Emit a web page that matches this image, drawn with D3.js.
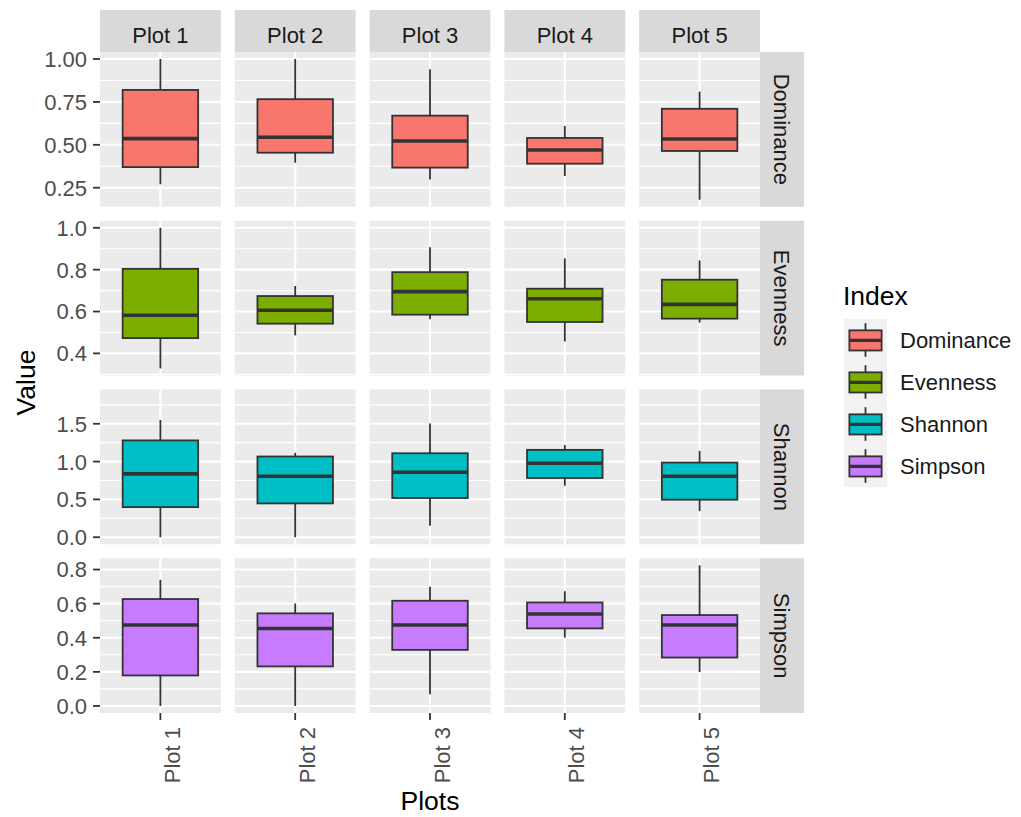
<!DOCTYPE html>
<html>
<head>
<meta charset="utf-8">
<script src="https://cdn.jsdelivr.net/npm/d3@7"></script>
<style>
  body { margin: 0; background: #ffffff; }
  svg { display: block; font-family: "Liberation Sans", Arial, sans-serif; }
</style>
</head>
<body>
<svg id="chart" width="1021" height="817"></svg>
<script>
// ---- data ---------------------------------------------------------------
const plots = ["Plot 1", "Plot 2", "Plot 3", "Plot 4", "Plot 5"];
const indices = ["Dominance", "Evenness", "Shannon", "Simpson"];
const indexColors = ["#F8766D", "#7CAE00", "#00BFC4", "#C77CFF"];

// box summaries per plot: [lower whisker, Q1, median, Q3, upper whisker]
const dominance = [
  [0.27, 0.37, 0.536, 0.82, 1.00],
  [0.396, 0.454, 0.544, 0.766, 1.00],
  [0.298, 0.367, 0.522, 0.67, 0.94],
  [0.318, 0.39, 0.47, 0.54, 0.61],
  [0.18, 0.464, 0.534, 0.71, 0.81]
];
const evenness = [
  [0.328, 0.473, 0.582, 0.804, 1.00],
  [0.486, 0.542, 0.606, 0.674, 0.722],
  [0.563, 0.585, 0.695, 0.788, 0.907],
  [0.457, 0.55, 0.661, 0.709, 0.854],
  [0.547, 0.566, 0.634, 0.752, 0.844]
];
const shannon = [
  [0.0, 0.398, 0.837, 1.28, 1.55],
  [0.0, 0.447, 0.806, 1.067, 1.116],
  [0.15, 0.518, 0.859, 1.11, 1.505],
  [0.681, 0.783, 0.978, 1.155, 1.218],
  [0.345, 0.496, 0.806, 0.987, 1.142]
];
const simpson = [
  [0.0, 0.179, 0.475, 0.627, 0.74],
  [0.0, 0.232, 0.454, 0.543, 0.601],
  [0.068, 0.329, 0.475, 0.617, 0.699],
  [0.401, 0.455, 0.539, 0.607, 0.673],
  [0.199, 0.284, 0.475, 0.533, 0.825]
];
const summaries = [dominance, evenness, shannon, simpson];

// full data range per index, including outliers (outliers are not drawn)
const dataRange = [[0.18, 1.0], [0.328, 1.0], [0.0, 1.86], [0.0, 0.825]];

// y-axis breaks per index
const ticksDominance = [0.25, 0.50, 0.75, 1.00];
const ticksEvenness = [0.4, 0.6, 0.8, 1.0];
const ticksShannon = [0.0, 0.5, 1.0, 1.5];
const ticksSimpson = [0.0, 0.2, 0.4, 0.6, 0.8];
const tickSets = [ticksDominance, ticksEvenness, ticksShannon, ticksSimpson];
const tickFormats = [".2f", ".1f", ".1f", ".1f"];

// ---- layout -------------------------------------------------------------
const svg = d3.select("#chart");
const gridLeft = 100, gridRight = 760, gridTop = 52, gridBottom = 713, gap = 14;
const pw = (gridRight - gridLeft - 4 * gap) / plots.length;
const ph = (gridBottom - gridTop - 3 * gap) / indices.length;
const stripH = 42, stripW = 44;
const smallFont = 22, titleFont = 26.5;

const panelBg = "#EBEBEB", stripBg = "#D9D9D9";
const textDark = "#1A1A1A", axisText = "#4D4D4D", lineDark = "#333333";

// discrete x inside each facet: a single level at position 1, expanded by 0.6
const x = d3.scaleLinear().domain([0.4, 1.6]).range([0, pw]);

const yScales = dataRange.map(([lo, hi]) => {
  const pad = 0.05 * (hi - lo);
  return d3.scaleLinear().domain([lo - pad, hi + pad]).range([ph, 0]);
});

function minorBreaks(ticks, y) {
  const step = ticks[1] - ticks[0];
  const [d0, d1] = y.domain();
  const out = [];
  for (let i = -1; i < ticks.length; i++) {
    const v = ticks[0] + (i + 0.5) * step;
    if (v >= d0 && v <= d1) out.push(v);
  }
  return out;
}

indices.forEach((idx, r) => {
  const y = yScales[r];
  const rowY = gridTop + r * (ph + gap);

  plots.forEach((plot, c) => {
    const colX = gridLeft + c * (pw + gap);
    const g = svg.append("g").attr("transform", `translate(${colX},${rowY})`);

    g.append("rect").attr("width", pw).attr("height", ph).attr("fill", panelBg);

    // minor grid
    g.selectAll(".minor").data(minorBreaks(tickSets[r], y)).join("line")
      .attr("class", "minor")
      .attr("x1", 0).attr("x2", pw)
      .attr("y1", d => y(d)).attr("y2", d => y(d))
      .attr("stroke", "#ffffff").attr("stroke-width", 1.1);

    // major grid
    g.selectAll(".major").data(tickSets[r]).join("line")
      .attr("class", "major")
      .attr("x1", 0).attr("x2", pw)
      .attr("y1", d => y(d)).attr("y2", d => y(d))
      .attr("stroke", "#ffffff").attr("stroke-width", 2.1);

    g.append("line")
      .attr("x1", x(1)).attr("x2", x(1)).attr("y1", 0).attr("y2", ph)
      .attr("stroke", "#ffffff").attr("stroke-width", 2.1);

    // box
    const [lw, q1, med, q3, uw] = summaries[r][c];
    const bx0 = x(1 - 0.375), bx1 = x(1 + 0.375);
    g.append("line")
      .attr("x1", x(1)).attr("x2", x(1)).attr("y1", y(q3)).attr("y2", y(uw))
      .attr("stroke", lineDark).attr("stroke-width", 1.8);
    g.append("line")
      .attr("x1", x(1)).attr("x2", x(1)).attr("y1", y(q1)).attr("y2", y(lw))
      .attr("stroke", lineDark).attr("stroke-width", 1.8);
    g.append("rect")
      .attr("x", bx0).attr("y", y(q3))
      .attr("width", bx1 - bx0).attr("height", y(q1) - y(q3))
      .attr("fill", indexColors[r]).attr("stroke", lineDark).attr("stroke-width", 1.8);
    g.append("line")
      .attr("x1", bx0).attr("x2", bx1).attr("y1", y(med)).attr("y2", y(med))
      .attr("stroke", lineDark).attr("stroke-width", 3.6);

    // column strips on the top row
    if (r === 0) {
      const s = svg.append("g").attr("transform", `translate(${colX},${gridTop - stripH})`);
      s.append("rect").attr("width", pw).attr("height", stripH).attr("fill", stripBg);
      s.append("text").attr("x", pw / 2).attr("y", 32.5)
        .attr("text-anchor", "middle").attr("font-size", smallFont)
        .attr("fill", textDark).text(plot);
    }

    // x axis on the bottom row
    if (r === indices.length - 1) {
      const ax = svg.append("g").attr("transform", `translate(${colX},${rowY + ph})`);
      ax.append("line").attr("x1", x(1)).attr("x2", x(1)).attr("y1", 0).attr("y2", 7)
        .attr("stroke", lineDark).attr("stroke-width", 1.8);
      ax.append("text")
        .attr("transform", `translate(${x(1)},14) rotate(-90)`)
        .attr("text-anchor", "end").attr("dy", 19.5)
        .attr("font-size", smallFont).attr("fill", axisText).text(plot);
    }
  });

  // row strip on the right
  const rs = svg.append("g").attr("transform", `translate(${gridRight},${rowY})`);
  rs.append("rect").attr("width", stripW).attr("height", ph).attr("fill", stripBg);
  rs.append("text")
    .attr("transform", `translate(14,${ph / 2}) rotate(90)`)
    .attr("text-anchor", "middle").attr("font-size", smallFont)
    .attr("fill", textDark).text(idx);

  // y axis
  const ay = svg.append("g").attr("transform", `translate(${gridLeft},${rowY})`);
  const fmt = d3.format(tickFormats[r]);
  ay.selectAll("line").data(tickSets[r]).join("line")
    .attr("x1", -7).attr("x2", 0)
    .attr("y1", d => y(d)).attr("y2", d => y(d))
    .attr("stroke", lineDark).attr("stroke-width", 1.8);
  ay.selectAll("text").data(tickSets[r]).join("text")
    .attr("x", -13).attr("y", d => y(d)).attr("dy", "0.36em")
    .attr("text-anchor", "end").attr("font-size", smallFont)
    .attr("fill", axisText).text(d => fmt(d));
});

// axis titles
svg.append("text")
  .attr("transform", `translate(35,${(gridTop + gridBottom) / 2}) rotate(-90)`)
  .attr("text-anchor", "middle").attr("font-size", titleFont)
  .attr("fill", "#000000").text("Value");
svg.append("text")
  .attr("x", (gridLeft + gridRight) / 2).attr("y", 810)
  .attr("text-anchor", "middle").attr("font-size", titleFont)
  .attr("fill", "#000000").text("Plots");

// legend
const lg = svg.append("g").attr("transform", "translate(843,0)");
lg.append("text").attr("x", 0).attr("y", 305)
  .attr("font-size", titleFont).attr("fill", "#000000").text("Index");
const keyW = 43, keyH = 42, keyTop = 319;
indices.forEach((idx, i) => {
  const k = lg.append("g").attr("transform", `translate(1,${keyTop + i * keyH})`);
  k.append("rect").attr("width", keyW).attr("height", keyH).attr("fill", "#F2F2F2");
  k.append("line").attr("x1", keyW / 2).attr("x2", keyW / 2)
    .attr("y1", keyH * 0.1).attr("y2", keyH * 0.9)
    .attr("stroke", lineDark).attr("stroke-width", 1.8);
  k.append("rect")
    .attr("x", keyW * 0.125).attr("y", keyH * 0.27)
    .attr("width", keyW * 0.75).attr("height", keyH * 0.48)
    .attr("fill", indexColors[i]).attr("stroke", lineDark).attr("stroke-width", 1.8);
  k.append("line").attr("x1", keyW * 0.125).attr("x2", keyW * 0.875)
    .attr("y1", keyH * 0.51).attr("y2", keyH * 0.51)
    .attr("stroke", lineDark).attr("stroke-width", 3.2);
  k.append("text").attr("x", 56).attr("y", keyH / 2).attr("dy", "0.36em")
    .attr("font-size", smallFont).attr("fill", textDark).text(idx);
});
</script>
</body>
</html>
